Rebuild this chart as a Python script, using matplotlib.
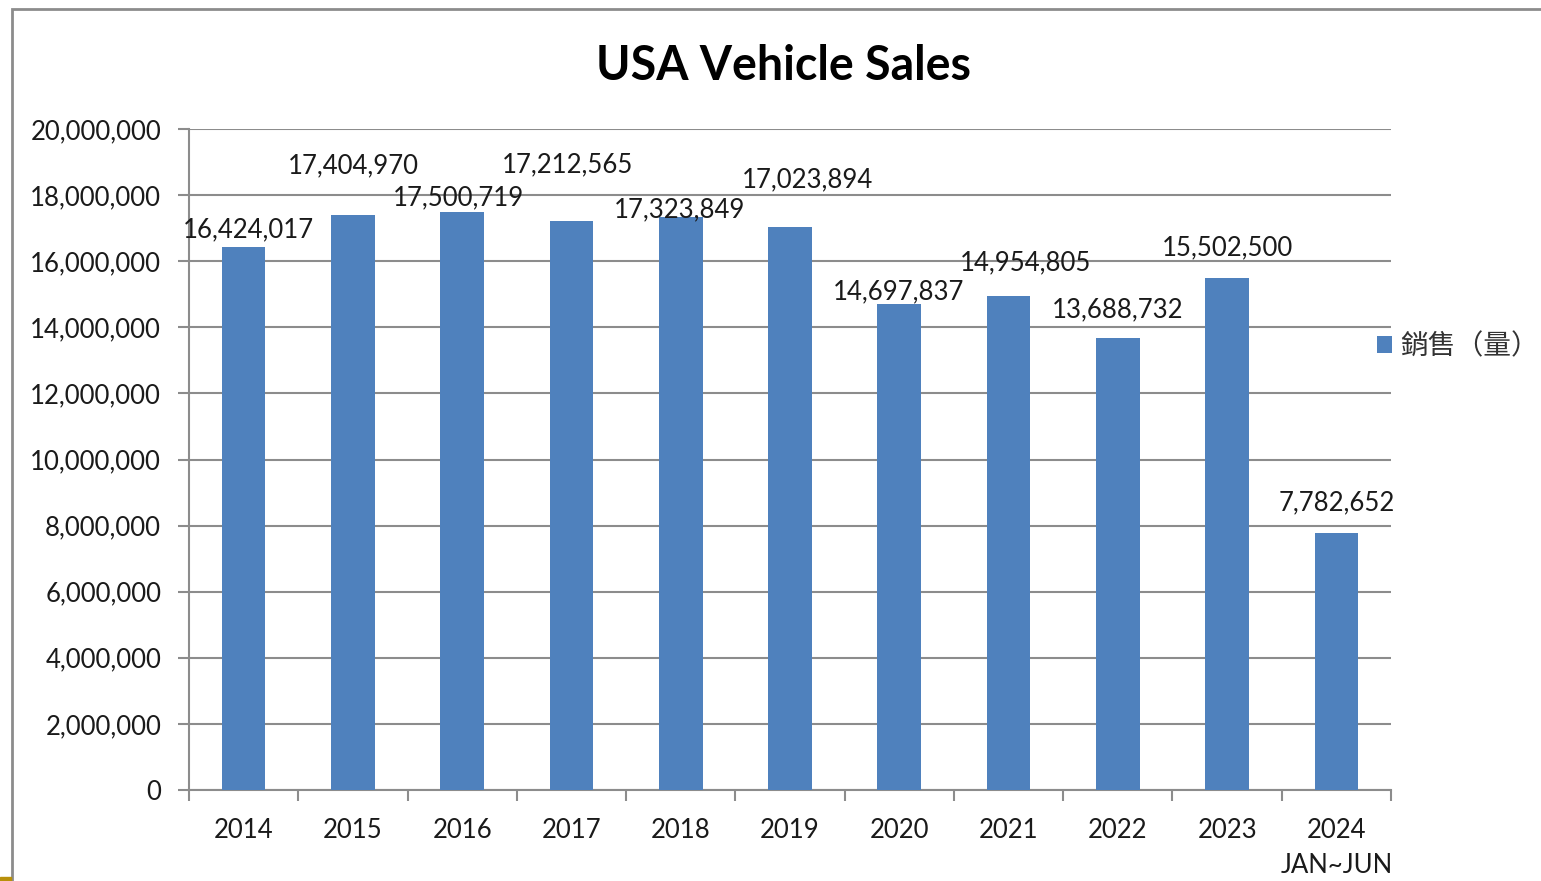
import matplotlib
matplotlib.use("Agg")
import matplotlib.pyplot as plt
import matplotlib.patches as mpatches
from matplotlib.ticker import FuncFormatter, FixedLocator

# data
years = ["2014", "2015", "2016", "2017", "2018", "2019", "2020", "2021", "2022", "2023", "2024\nJAN~JUN"]
sales = [16424017, 17404970, 17500719, 17212565, 17323849, 17023894,
         14697837, 14954805, 13688732, 15502500, 7782652]

# label offsets in pixels (dx, dy) from the bar top center
label_dx = [5, 0, -4, -4, -1, 17, -1, 17, 0, 0, 0]
label_dy = [17, 49, 14, 56, 8, 48, 12, 33, 28, 30, 30]

BAR_COLOR = "#4F81BD"
GRID_COLOR = "#8C8C8C"
FONT = ["Lato", "DejaVu Sans"]

plt.rcParams["font.family"] = FONT

fig = plt.figure(figsize=(15.41, 8.81), dpi=100)
ax = fig.add_axes([189 / 1541, 1 - 790 / 881, (1391 - 189) / 1541, (790 - 129) / 881])

x = list(range(len(years)))
bars = ax.bar(x, sales, width=0.40, color=BAR_COLOR, zorder=3, label="銷售（量）")

ax.set_xlim(-0.5, len(years) - 0.5)
ax.set_ylim(0, 20000000)
ax.set_yticks(range(0, 20000001, 2000000))
ax.yaxis.set_major_formatter(FuncFormatter(lambda v, p: f"{int(v):,}"))
ax.grid(axis="y", color=GRID_COLOR, linewidth=1.5, zorder=0)

# ticks: labels at centers, tick marks between categories
ax.set_xticks(x)
ax.set_xticklabels(years, fontsize=18.5, color="#1a1a1a", linespacing=1.5, va="top")
ax.tick_params(axis="x", which="major", length=0, pad=20)
ax.xaxis.set_minor_locator(FixedLocator([i - 0.5 for i in range(len(years) + 1)]))
ax.tick_params(axis="x", which="minor", length=8, width=1.5, color=GRID_COLOR, direction="out")
ax.tick_params(axis="y", length=8, width=1.5, color=GRID_COLOR, labelsize=18.5, labelcolor="#1a1a1a", pad=12)

for s in ["top", "right"]:
    ax.spines[s].set_visible(False)
for s in ["left", "bottom"]:
    ax.spines[s].set_color(GRID_COLOR)
    ax.spines[s].set_linewidth(1.5)

for i, b in enumerate(bars):
    ax.annotate(f"{sales[i]:,}", (b.get_x() + b.get_width() / 2, sales[i]),
                xytext=(label_dx[i] * 0.72, label_dy[i] * 0.72), textcoords="offset points",
                ha="center", va="center", fontsize=18.5, color="#1a1a1a", zorder=5)

fig.text(783 / 1541, 1 - 66 / 881, "USA Vehicle Sales", ha="center", va="center",
         fontsize=33.5, fontweight="bold", color="black")

# legend
leg = ax.legend(loc="center left", bbox_to_anchor=(1377 / 1541, 1 - 346 / 881),
                bbox_transform=fig.transFigure, frameon=False, handlelength=0.55,
                handleheight=0.55, handletextpad=0.3, borderpad=0, borderaxespad=0,
                prop={"family": ["Noto Sans CJK TC", "DejaVu Sans"], "size": 20})
for t in leg.get_texts():
    t.set_color("#333333")

# chart frame
fig.patches.append(mpatches.Rectangle((12 / 1541, -0.1), 1.2, 1 - 9 / 881 + 0.1,
                                      transform=fig.transFigure, fill=False,
                                      edgecolor="#8C8C8C", linewidth=2))
fig.patches.append(mpatches.Rectangle((0, 0), 11 / 1541, 4 / 881, transform=fig.transFigure,
                                      color="#B8900A"))

fig.savefig("out.png", dpi=100)
